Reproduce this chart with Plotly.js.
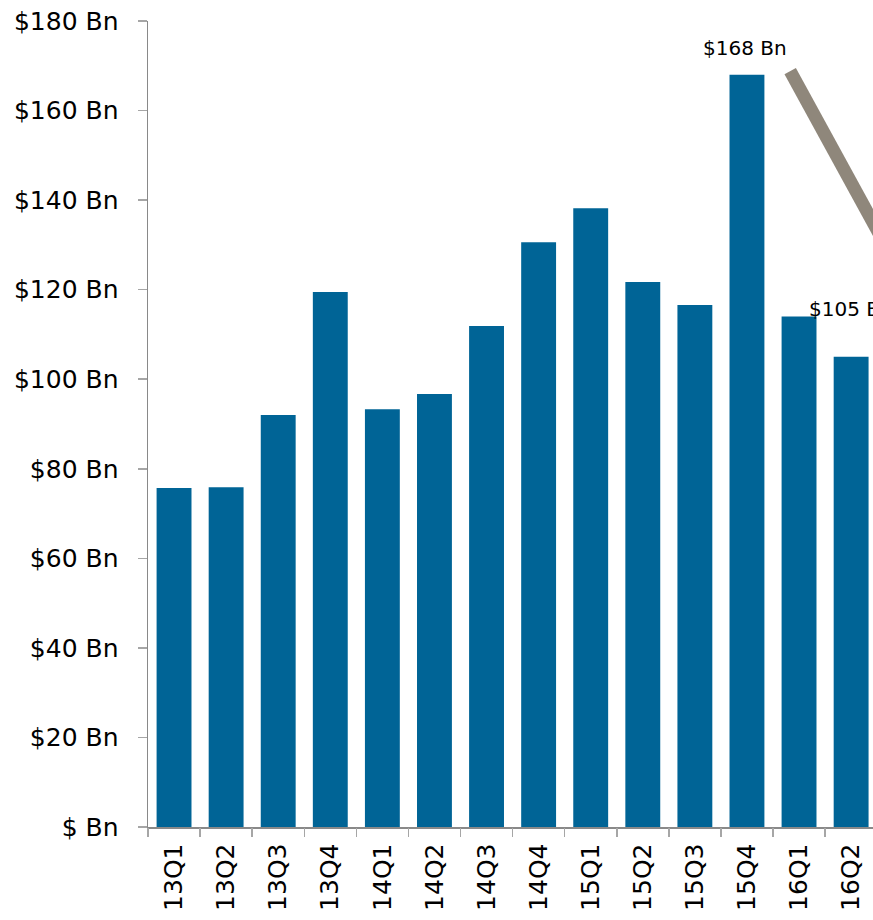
<!DOCTYPE html>
<html><head><meta charset="utf-8">
<script src="https://cdn.plot.ly/plotly-3.0.1.min.js"></script>
<style>html,body{margin:0;padding:0;background:#fff;}#chart{width:873px;height:920px;}</style>
</head><body><div id="chart"></div>
<script>
var quarters = ["13Q1","13Q2","13Q3","13Q4","14Q1","14Q2","14Q3","14Q4","15Q1","15Q2","15Q3","15Q4","16Q1","16Q2"];
var values = [75.7, 75.9, 92.0, 119.5, 93.3, 96.7, 111.9, 130.6, 138.2, 121.7, 116.6, 168, 114.0, 105];
var yTickVals = [0,20,40,60,80,100,120,140,160,180];
var yTickText = ["$ Bn","$20 Bn","$40 Bn","$60 Bn","$80 Bn","$100 Bn","$120 Bn","$140 Bn","$160 Bn","$180 Bn"];
var peakLabel = "$168 Bn";
var lastLabel = "$105 Bn";

var font = "'DejaVu Sans', sans-serif";
var idx = quarters.map(function(q,i){return i;});
var trace = {
  type: "bar",
  x: idx,
  y: values,
  marker: {color: "#006496"},
  hoverinfo: "none"
};
var layout = {
  width: 873, height: 920,
  margin: {l: 148, r: 0, t: 21, b: 93},
  paper_bgcolor: "#fff", plot_bgcolor: "#fff",
  bargap: 0.33,
  showlegend: false,
  xaxis: {
    range: [-0.5, 13.42],
    tickmode: "array",
    tickvals: idx,
    ticktext: quarters,
    tickangle: -90,
    showgrid: false, zeroline: false,
    showline: true, linecolor: "#898989", linewidth: 1.5,
    ticks: "",
    ticklabelstandoff: 5,
    tickfont: {family: font, size: 25, color: "#000"},
    fixedrange: true
  },
  xaxis2: {
    overlaying: "x", matches: "x", range: [-0.5, 13.42],
    tickmode: "array",
    tickvals: idx.map(function(i){return i+0.5;}).concat([-0.5]),
    showticklabels: false, ticks: "outside", ticklen: 9, tickwidth: 1.5, tickcolor: "#a6a6a6",
    showgrid: false, zeroline: false, showline: false
  },
  yaxis: {
    range: [0, 180],
    tickmode: "array", tickvals: yTickVals, ticktext: yTickText,
    showgrid: false, zeroline: false,
    showline: true, linecolor: "#898989", linewidth: 1.5,
    ticks: "outside", ticklen: 9, tickwidth: 1.5, tickcolor: "#a6a6a6",
    tickfont: {family: font, size: 25, color: "#000"},
    ticklabelstandoff: 14,
    fixedrange: true
  },
  annotations: [
    {x: 11, y: values[11], xref: "x", yref: "y", text: peakLabel, showarrow: false,
     xanchor: "center", yanchor: "middle", xshift: -2, yshift: 27,
     font: {family: font, size: 20, color: "#000"}},
    {x: 12, y: values[13], xref: "x", yref: "y", text: lastLabel, showarrow: false,
     xanchor: "left", yanchor: "middle", xshift: 8, yshift: 48,
     font: {family: font, size: 20, color: "#000"}}
  ],
  shapes: [
    {type: "line", xref: "x", yref: "y", x0: 11.83, y0: values[11] + 0.8, x1: 14.2, y1: 118.4,
     line: {color: "#8f877b", width: 13}, layer: "above"}
  ]
};
var trace2 = {type: "scatter", x: [0], y: [0], xaxis: "x2", yaxis: "y", mode: "none", hoverinfo: "none"};
Plotly.newPlot("chart", [trace, trace2], layout, {staticPlot: true});
</script></body></html>
